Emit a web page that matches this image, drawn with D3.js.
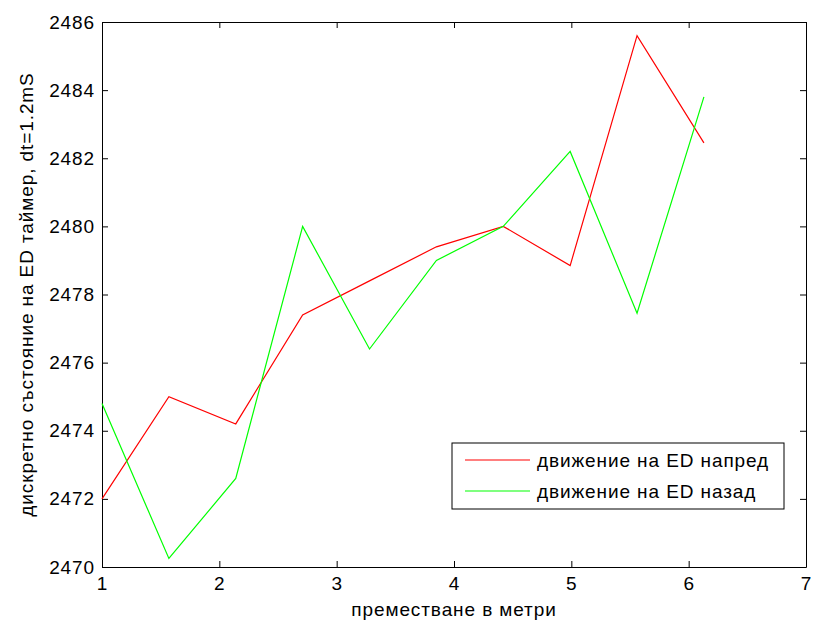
<!DOCTYPE html>
<html>
<head>
<meta charset="utf-8">
<script src="https://cdn.jsdelivr.net/npm/d3@7"></script>
<style>
  body { margin: 0; background: #fff; }
  svg text { font-family: "Liberation Sans", Arial, sans-serif; fill: #000; letter-spacing: 0.9px; }
</style>
</head>
<body>
<div id="chart"></div>
<script>
const distance = [1, 1.57, 2.14, 2.71, 3.28, 3.85, 4.42, 4.99, 5.56, 6.13];
const forward = [2472, 2475.0, 2474.2, 2477.4, 2478.4, 2479.4, 2480.0, 2478.85, 2485.6, 2482.45];
const backward = [2474.8, 2470.25, 2472.6, 2480.0, 2476.4, 2479.0, 2480.0, 2482.2, 2477.45, 2483.8];
const xTicks = [1, 2, 3, 4, 5, 6, 7];
const yTicks = [2470, 2472, 2474, 2476, 2478, 2480, 2482, 2484, 2486];
const seriesNames = ["движение на ED напред", "движение на ED назад"];

const width = 815;
const height = 623;
const margin = { top: 22, right: 9, bottom: 56, left: 102 };
const plotW = width - margin.left - margin.right;
const plotH = height - margin.top - margin.bottom;

const svg = d3.select("#chart").append("svg").attr("width", width).attr("height", height);

const x = d3.scaleLinear().domain([1, 7]).range([margin.left, margin.left + plotW]);
const y = d3.scaleLinear().domain([2470, 2486]).range([margin.top + plotH, margin.top]);

const tickLen = 6;
const fmt = d3.format("d");

// axes, MATLAB style ticks pointing inward on all sides
const bottomAxis = d3.axisBottom(x).tickValues(xTicks).tickFormat(fmt).tickSizeInner(-tickLen).tickSizeOuter(0).tickPadding(10);
const topAxis = d3.axisTop(x).tickValues(xTicks).tickSizeInner(-tickLen).tickSizeOuter(0).tickFormat("");
const leftAxis = d3.axisLeft(y).tickValues(yTicks).tickFormat(fmt).tickSizeInner(-tickLen).tickSizeOuter(0).tickPadding(7);
const rightAxis = d3.axisRight(y).tickValues(yTicks).tickSizeInner(-tickLen).tickSizeOuter(0).tickFormat("");

function styleAxis(g) {
  g.select(".domain").attr("stroke", "#000").attr("stroke-width", 1);
  g.selectAll(".tick line").attr("stroke", "#000");
  g.selectAll(".tick text").style("font-size", "19px").style("font-family", "'Liberation Sans', Arial, sans-serif");
}

svg.append("g").attr("transform", `translate(0,${margin.top + plotH})`).call(bottomAxis).call(styleAxis);
svg.append("g").attr("transform", `translate(0,${margin.top})`).call(topAxis).call(styleAxis);
svg.append("g").attr("transform", `translate(${margin.left},0)`).call(leftAxis).call(styleAxis);
svg.append("g").attr("transform", `translate(${margin.left + plotW},0)`).call(rightAxis).call(styleAxis);

// lines
const line = d3.line().x((d, i) => x(distance[i])).y((d) => y(d));

svg.append("path").datum(forward).attr("d", line)
  .attr("fill", "none").attr("stroke", "#ff0000").attr("stroke-width", 1.2);
svg.append("path").datum(backward).attr("d", line)
  .attr("fill", "none").attr("stroke", "#00ff00").attr("stroke-width", 1.2);

// axis labels
svg.append("text")
  .attr("x", margin.left + plotW / 2).attr("y", 616)
  .attr("text-anchor", "middle").style("font-size", "19px")
  .text("преместване в метри");

svg.append("text")
  .attr("transform", `translate(33,${margin.top + plotH / 2}) rotate(-90)`)
  .attr("text-anchor", "middle").style("font-size", "19px")
  .text("дискретно състояние на ED таймер, dt=1.2mS");

// legend
const legend = svg.append("g").attr("transform", "translate(452,443)");
legend.append("rect").attr("width", 332).attr("height", 66)
  .attr("fill", "#fff").attr("stroke", "#000").attr("stroke-width", 1);

const colors = ["#ff0000", "#00ff00"];
seriesNames.forEach((name, i) => {
  const ly = 17 + i * 31;
  legend.append("line").attr("x1", 13).attr("x2", 78).attr("y1", ly).attr("y2", ly)
    .attr("stroke", colors[i]).attr("stroke-width", 1.2);
  legend.append("text").attr("x", 85).attr("y", ly + 7).style("font-size", "19px").text(name);
});
</script>
</body>
</html>
